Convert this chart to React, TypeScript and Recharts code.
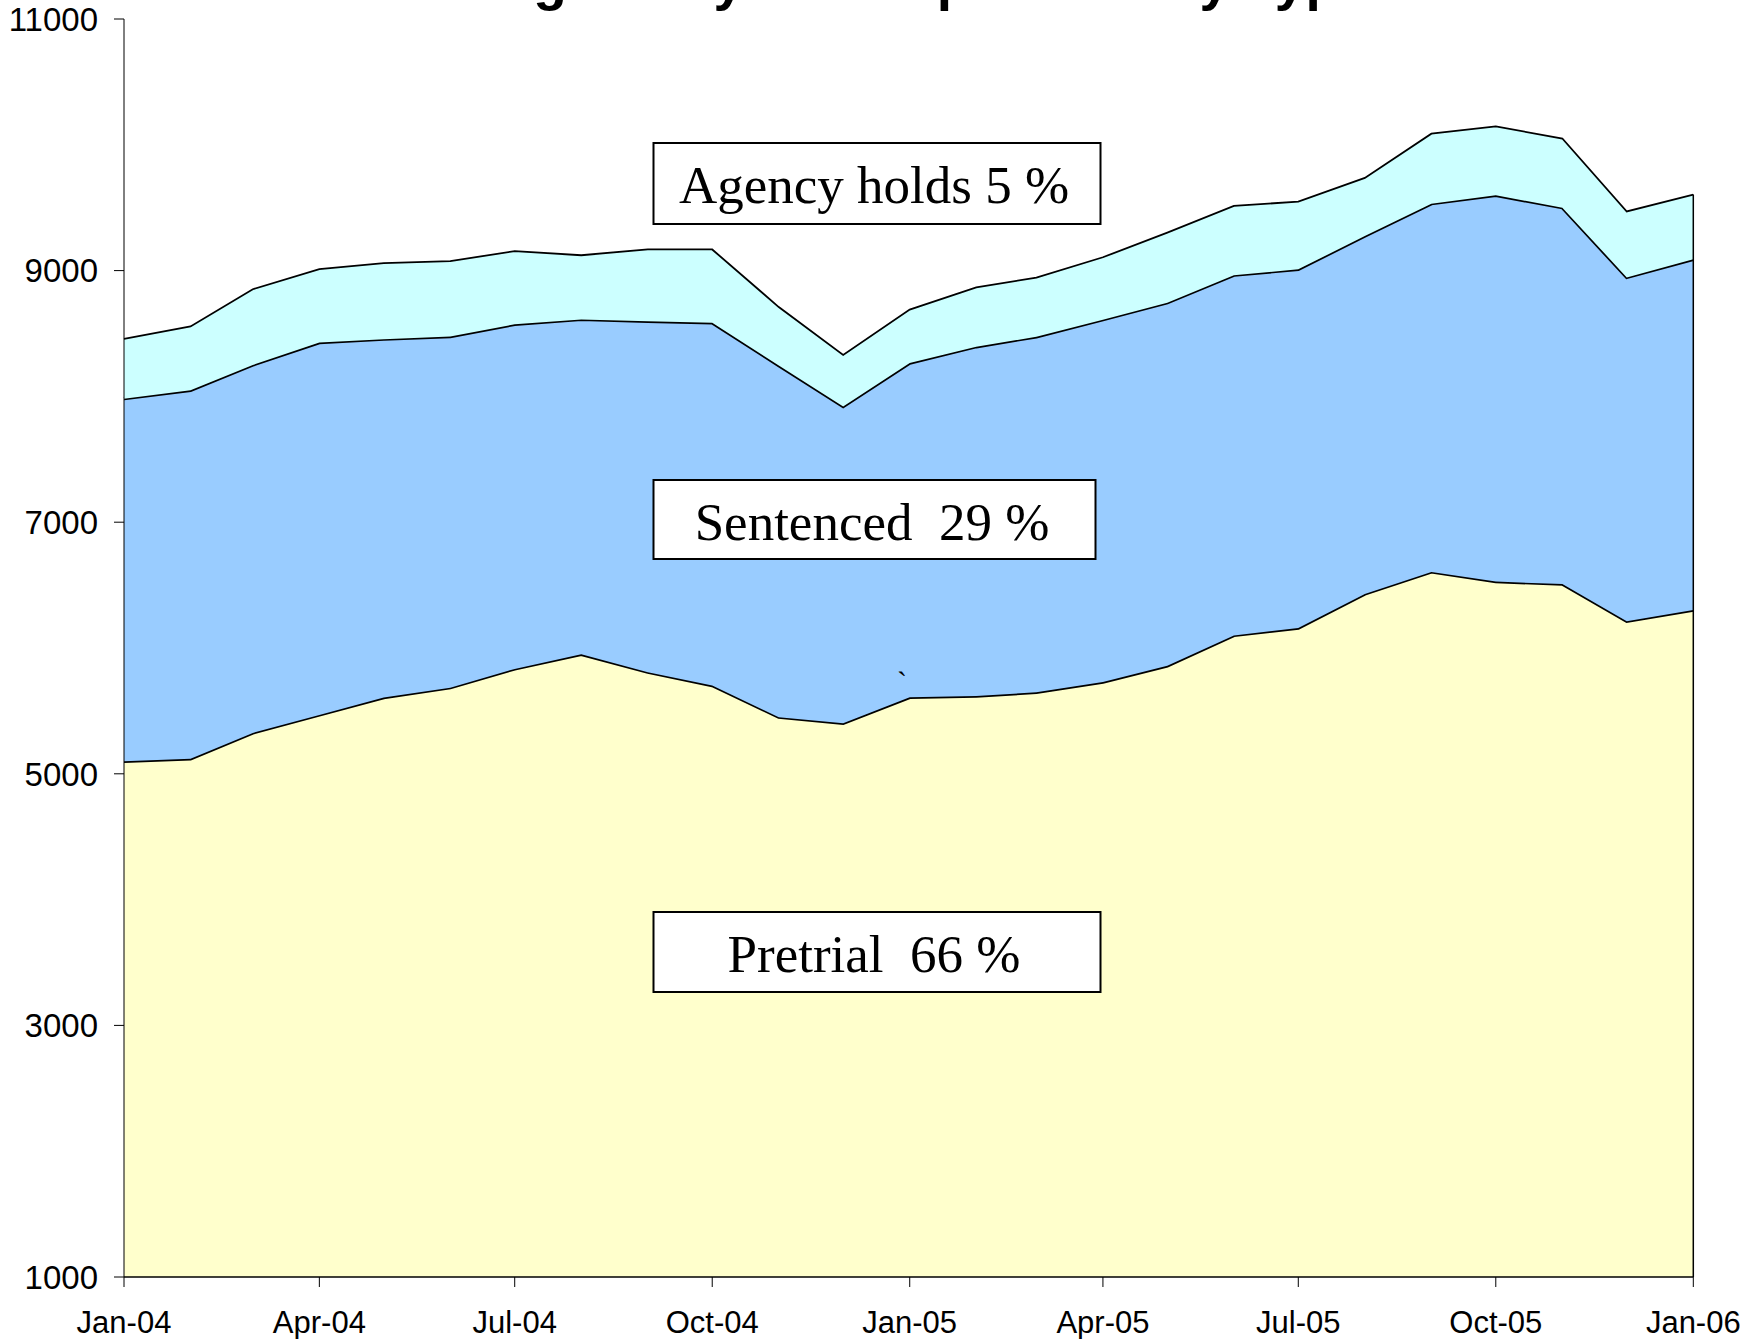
import { AreaChart, Area, XAxis, YAxis, ReferenceLine } from "recharts";

const months = [
  "2004-01", "2004-02", "2004-03", "2004-04", "2004-05", "2004-06", "2004-07",
  "2004-08", "2004-09", "2004-10", "2004-11", "2004-12", "2005-01", "2005-02",
  "2005-03", "2005-04", "2005-05", "2005-06", "2005-07", "2005-08", "2005-09",
  "2005-10", "2005-11", "2005-12", "2006-01",
];

const pretrial = [
  5100, 5120, 5325, 5468, 5606, 5685, 5834, 5950, 5808, 5702, 5450, 5402, 5608,
  5618, 5648, 5730, 5858, 6100, 6158, 6430, 6605, 6528, 6508, 6212, 6302,
];

const sentenced = [
  2882, 2928, 2925, 2960, 2849, 2791, 2739, 2662, 2789, 2883, 2796, 2518, 2657,
  2777, 2826, 2880, 2887, 2864, 2852, 2845, 2927, 3070, 2992, 2734, 2788,
];

const agencyHolds = [
  476, 508, 602, 584, 605, 599, 582, 510, 571, 583, 464, 410, 425, 471, 471, 496,
  557, 551, 538, 462, 556, 548, 550, 524, 514,
];

const xTicks = [
  "2004-01", "2004-04", "2004-07", "2004-10", "2005-01", "2005-04", "2005-07",
  "2005-10", "2006-01",
];
const yTicks = [1000, 3000, 5000, 7000, 9000, 11000];

const monthNames = ["Jan", "Feb", "Mar", "Apr", "May", "Jun", "Jul", "Aug", "Sep", "Oct", "Nov", "Dec"];

const toTime = (m: string) => {
  const [y, mo] = m.split("-").map(Number);
  return Date.UTC(y, mo - 1, 1);
};

const fmtMonth = (t: number) => {
  const d = new Date(t);
  return `${monthNames[d.getUTCMonth()]}-${String(d.getUTCFullYear()).slice(2)}`;
};

const data = months.map((m, i) => ({
  t: toTime(m),
  pretrial: pretrial[i],
  sentenced: sentenced[i],
  agency: agencyHolds[i],
}));

const last = data[data.length - 1];
const lastTop = last.pretrial + last.sentenced + last.agency;

const sans = "'Liberation Sans', Arial, sans-serif";
const serif = "'Liberation Serif', 'Times New Roman', serif";

function LabelBox({ x, y, w, h, cx, text }: { x: number; y: number; w: number; h: number; cx: number; text: string }) {
  return (
    <g>
      <rect x={x} y={y} width={w} height={h} fill="#fff" stroke="#000" strokeWidth={2} />
      <text x={cx} y={y + 60} textAnchor="middle" fontFamily={serif} fontSize={53} fill="#000" style={{ whiteSpace: "pre" }}>
        {text}
      </text>
    </g>
  );
}

export default function App() {
  return (
    <div style={{ position: "absolute", left: 0, top: 0, width: 1762, height: 1339, overflow: "hidden", background: "#fff" }}>
      <AreaChart width={1762} height={1339} data={data} margin={{ top: 19, right: 68.7, bottom: 0, left: 0 }}>
        <XAxis
          dataKey="t"
          type="number"
          domain={[toTime(months[0]), toTime(months[months.length - 1])]}
          ticks={xTicks.map(toTime)}
          tickFormatter={fmtMonth}
          interval={0}
          height={62}
          tick={{ fontFamily: sans, fontSize: 31, fill: "#000" }}
          tickSize={10}
          tickMargin={24}
          axisLine={{ stroke: "#000", strokeWidth: 1.5 }}
          tickLine={{ stroke: "#000" }}
        />
        <YAxis
          domain={[1000, 11000]}
          ticks={yTicks}
          allowDataOverflow
          interval={0}
          width={124}
          tick={{ fontFamily: sans, fontSize: 33, fill: "#000" }}
          tickSize={10}
          tickMargin={16}
          axisLine={{ stroke: "#000" }}
          tickLine={{ stroke: "#000" }}
        />
        {/* lower layers get a wider stroke: the next layer's fill covers half of it */}
        <Area type="linear" dataKey="pretrial" stackId="1" fill="#FFFFCC" fillOpacity={1} stroke="#000" strokeWidth={3.4} isAnimationActive={false} />
        <Area type="linear" dataKey="sentenced" stackId="1" fill="#99CCFF" fillOpacity={1} stroke="#000" strokeWidth={3.4} isAnimationActive={false} />
        <Area type="linear" dataKey="agency" stackId="1" fill="#CCFFFF" fillOpacity={1} stroke="#000" strokeWidth={1.8} isAnimationActive={false} />
        <ReferenceLine
          segment={[{ x: last.t, y: 1000 }, { x: last.t, y: lastTop }]}
          stroke="#000"
          strokeWidth={1.5}
        />
      </AreaChart>
      <svg width={1762} height={1339} style={{ position: "absolute", left: 0, top: 0, pointerEvents: "none" }}>
        {/* title sits mostly above the top edge in the reference */}
        <text x={876} y={-1} textAnchor="middle" fontFamily={sans} fontWeight="bold" fontSize={55} fill="#000">
          Average Daily Jail Population by Type
        </text>
        <LabelBox x={653.5} y={143} w={447} h={81} cx={874} text="Agency holds 5 %" />
        <LabelBox x={653.5} y={480} w={442} h={79} cx={872} text="Sentenced  29 %" />
        <LabelBox x={653.5} y={912} w={447} h={80} cx={874} text="Pretrial  66 %" />
        <text x={897} y={692} fontFamily={serif} fontSize={30} fill="#000">`</text>
      </svg>
    </div>
  );
}
